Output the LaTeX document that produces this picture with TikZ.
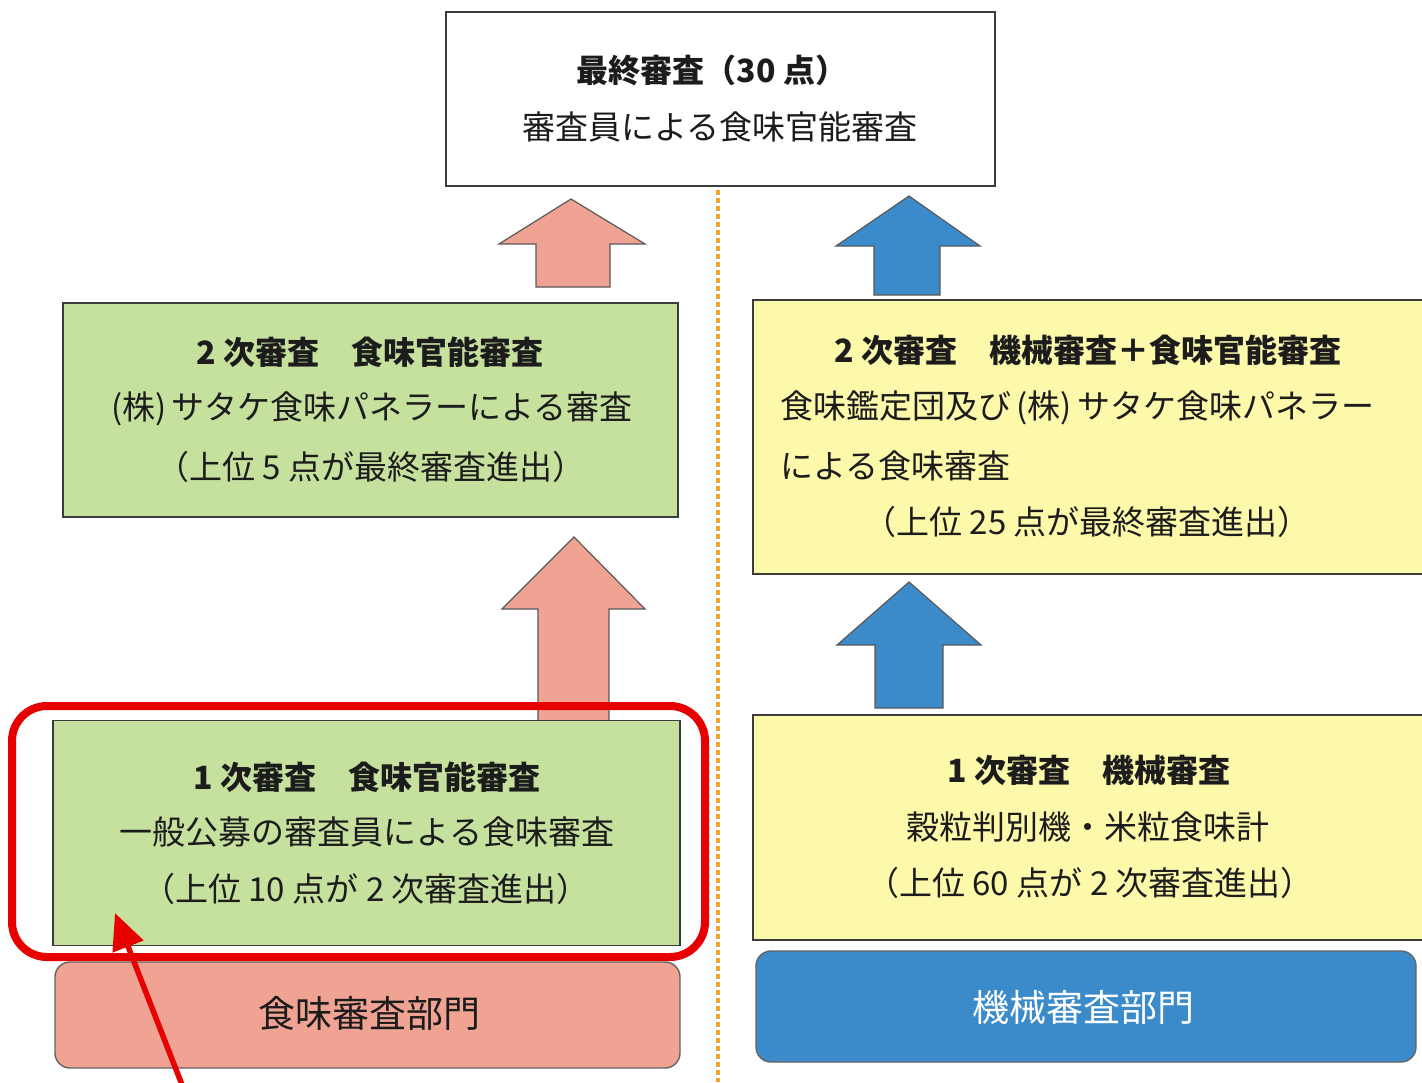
\documentclass[tikz,border=0pt]{standalone}
\usepackage{fontspec}
\newfontfamily\jp{Noto Sans CJK JP}
\usetikzlibrary{arrows.meta}
\definecolor{boxgreen}{HTML}{C6E09E}
\definecolor{boxyellow}{HTML}{FCF9AA}
\definecolor{salmon}{HTML}{F0A393}
\definecolor{steelblue}{HTML}{3B8BCA}
\definecolor{framered}{HTML}{E60000}
\definecolor{dotorange}{HTML}{EFA630}
\definecolor{edgegray}{HTML}{3C3C3C}
\definecolor{textgray}{HTML}{1C1C1C}
\tikzset{
  box/.style={draw=edgegray, line width=1.6pt, inner sep=0pt},
  deptbox/.style={draw=edgegray!80, line width=1.4pt, rounded corners=15pt, inner sep=0pt},
  txt/.style={font=\jp\fontsize{33}{38}\selectfont, text=textgray, inner sep=0pt},
  head/.style={txt, font=\jp\bfseries\fontsize{32}{38}\selectfont},
  dept/.style={txt, font=\jp\fontsize{37}{42}\selectfont},
  pinkarrow/.style={fill=salmon, draw=edgegray!85, line width=1.2pt},
  bluearrow/.style={fill=steelblue, draw=edgegray!85, line width=1.2pt},
}
\begin{document}
\begin{tikzpicture}[x=1pt,y=-1pt]
\useasboundingbox (0,0) rectangle (1422,1082);
\fill[white] (0,0) rectangle (1422,1082);

% divider
\draw[dotorange, line width=4.5pt, dash pattern=on 5pt off 3pt] (718,190) -- (718,1082);

% block arrows
\draw[pinkarrow] (571,199) -- (645,244) -- (610,244) -- (610,287) -- (536,287) -- (536,244) -- (499,244) -- cycle;
\draw[pinkarrow] (574,537) -- (645,609) -- (609,609) -- (609,722) -- (538,722) -- (538,609) -- (502,609) -- cycle;
\draw[bluearrow] (909,196) -- (980,246) -- (940,246) -- (940,295) -- (874,295) -- (874,246) -- (836,246) -- cycle;
\draw[bluearrow] (909,582) -- (981,645) -- (943,645) -- (943,708) -- (875,708) -- (875,645) -- (837,645) -- cycle;

% boxes
\node[box, fill=white, minimum width=549pt, minimum height=174pt] (final) at (720.5,99) {};
\node[box, fill=boxgreen, minimum width=615pt, minimum height=214pt] (s2l) at (370.5,410) {};
\node[box, fill=boxgreen, minimum width=627pt, minimum height=225pt] (s1l) at (366.5,833) {};
\node[deptbox, fill=salmon, minimum width=625pt, minimum height=106pt] (dl) at (367.5,1015) {};
\node[box, fill=boxyellow, minimum width=687pt, minimum height=274pt] (s2r) at (1096.5,437) {};
\node[box, fill=boxyellow, minimum width=687pt, minimum height=225pt] (s1r) at (1096.5,827.5) {};
\node[deptbox, fill=steelblue, minimum width=660pt, minimum height=111pt] (dr) at (1086,1006.5) {};

% texts: final
\node[head] (f1) at (712,70) {最終審査（30 点）};
\node[txt] (f2) at (720,127) {審査員による食味官能審査};

% left second stage
\node[head] (l21) at (370,352) {2 次審査　食味官能審査};
\node[txt] (l22) at (372,409) {(株)\,サタケ食味パネラーによる審査};
\node[txt] (l23) at (371,467) {（上位 5 点が最終審査進出）};

% left first stage
\node[head] (l11) at (367,777) {1 次審査　食味官能審査};
\node[txt] (l12) at (367,832) {一般公募の審査員による食味審査};
\node[txt] (l13) at (366,889) {（上位 10 点が 2 次審査進出）};

\node[dept] (dlt) at (369,1013) {食味審査部門};

% right second stage
\node[head] (r21) at (1088,350) {2 次審査　機械審査＋食味官能審査};
\node[txt, anchor=west] (r22) at (780,408) {食味鑑定団及び\,(株)\,サタケ食味パネラー};
\node[txt, anchor=west] (r23) at (780,466) {による食味審査};
\node[txt] (r24) at (1087,522) {（上位 25 点が最終審査進出）};

% right first stage
\node[head] (r11) at (1089,770) {1 次審査　機械審査};
\node[txt] (r12) at (1088,827) {穀粒判別機・米粒食味計};
\node[txt] (r13) at (1090,883) {（上位 60 点が 2 次審査進出）};

\node[dept, text=white] (drt) at (1083,1007) {機械審査部門};

% red highlight frame and pointer
\draw[framered, line width=8pt, rounded corners=35pt] (12,706) rectangle (705,957);
\coordinate (ptail) at (186,1095);
\coordinate (ptip) at (115,913);
\draw[framered, line width=5.5pt, -{Triangle[length=36pt,width=32pt]}] (ptail) -- (ptip);
\end{tikzpicture}
\end{document}
